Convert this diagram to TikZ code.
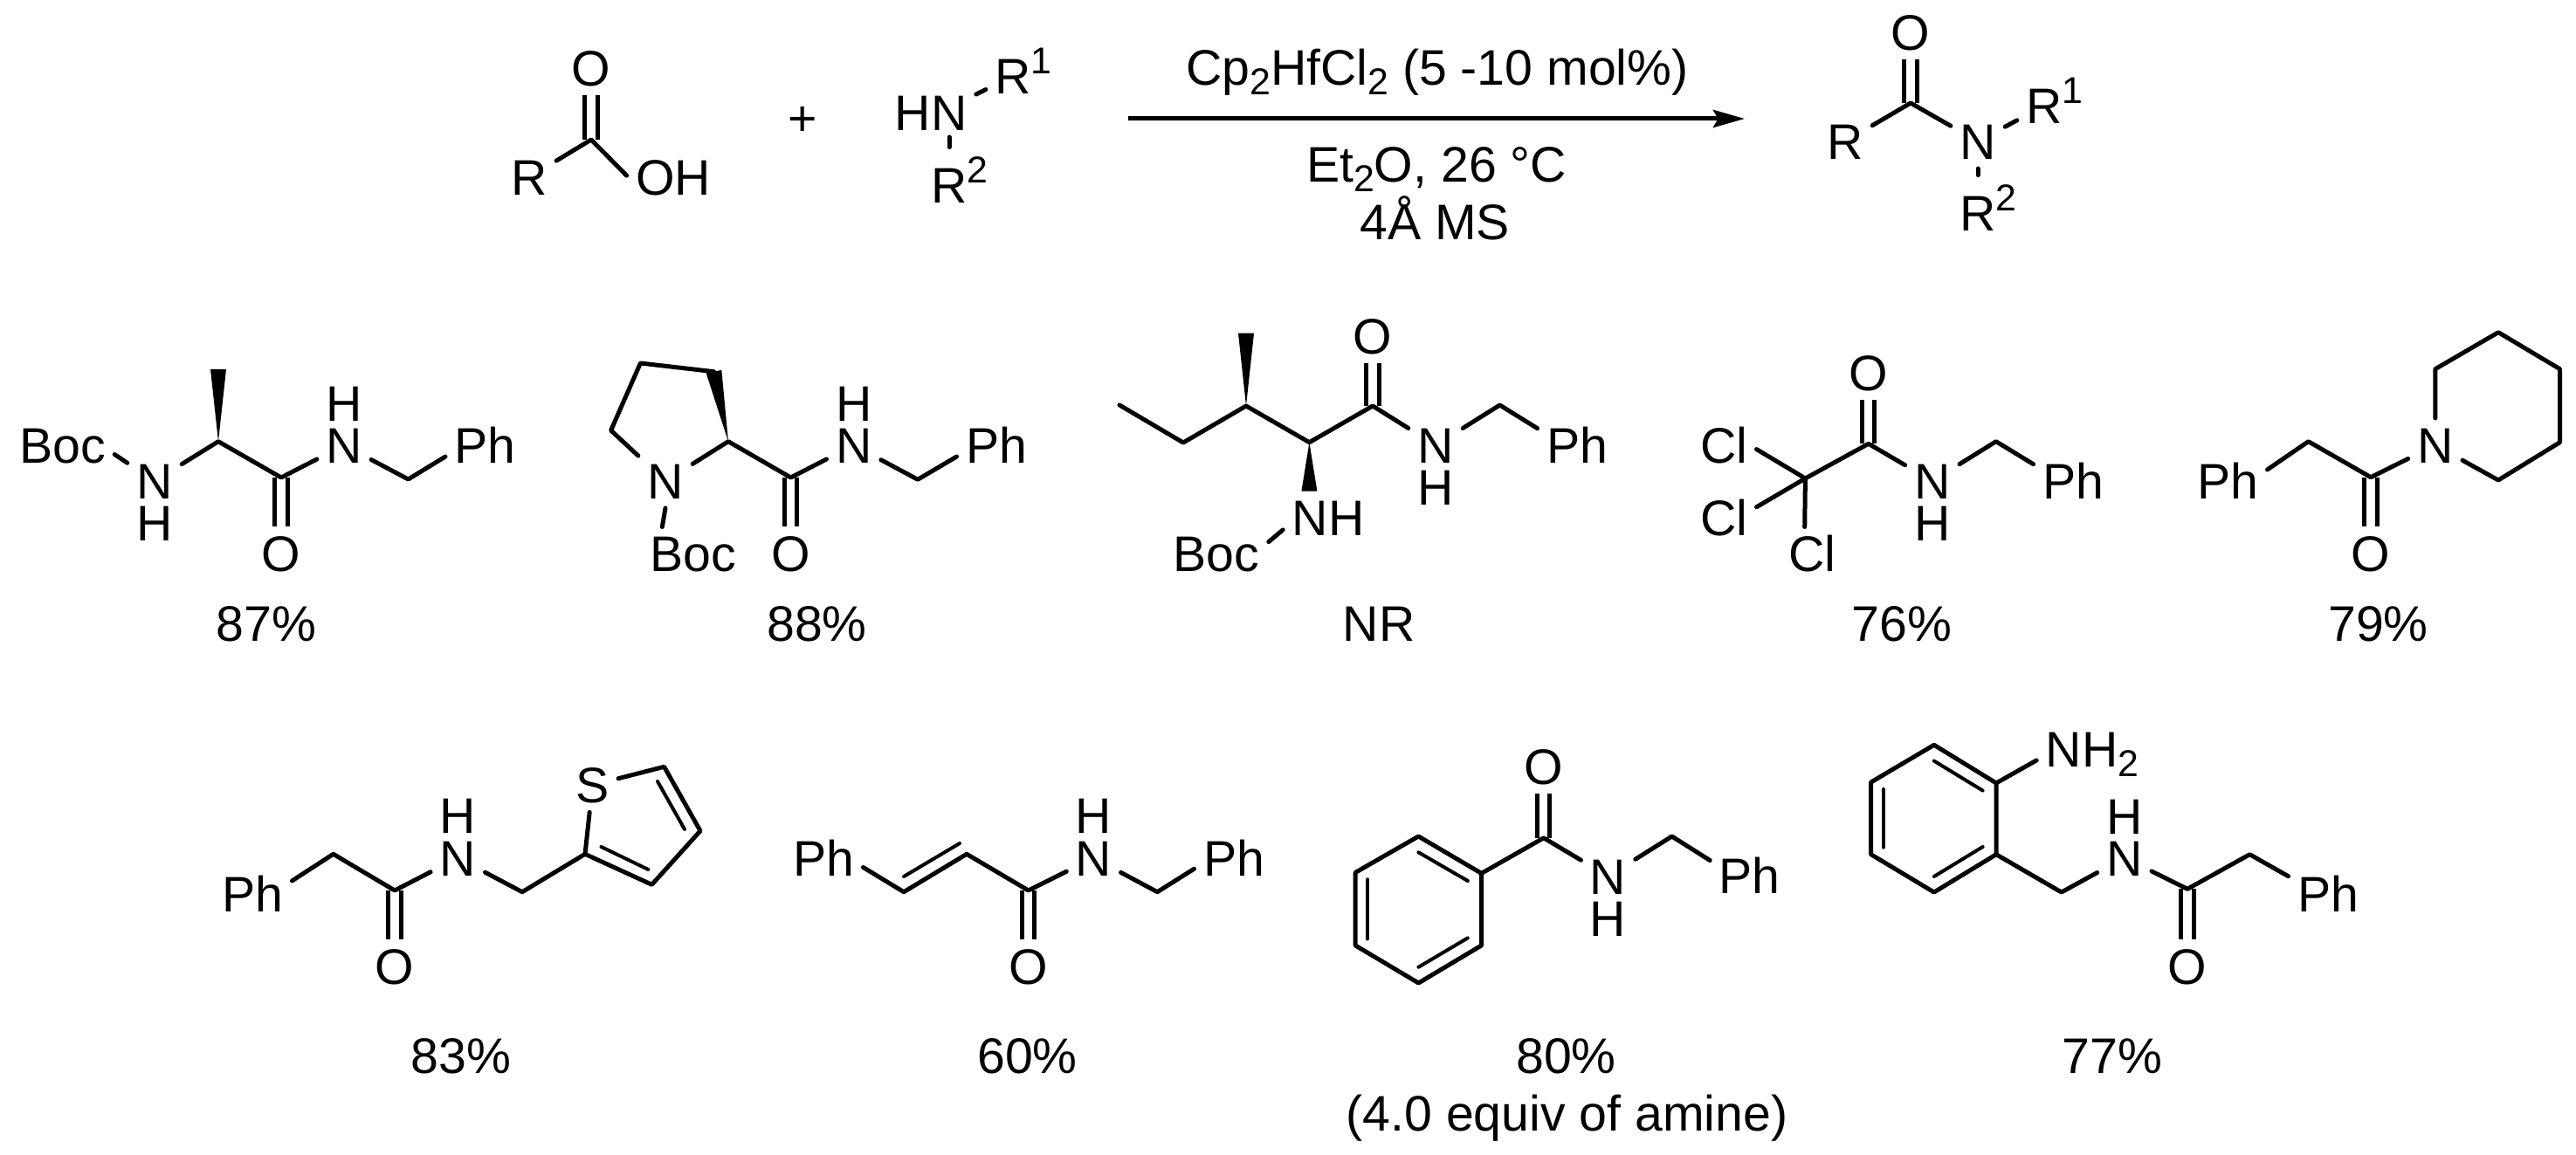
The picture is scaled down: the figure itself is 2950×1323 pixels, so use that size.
\documentclass[tikz,border=0pt]{standalone}
\usepackage{fontspec}
\setmainfont{Liberation Sans}
\usetikzlibrary{arrows.meta,calc}
\newcommand{\sups}[1]{\raisebox{5.75pt}{\fontsize{10.7}{10.7}\selectfont #1}}
\newcommand{\subs}[1]{\raisebox{-2.75pt}{\fontsize{10.7}{10.7}\selectfont #1}}
\newcommand{\wedgebond}[2]{\fill (#1) -- ($(#2)!2.25pt!90:(#1)$) -- ($(#2)!2.25pt!-90:(#1)$) -- cycle;}
\tikzset{
	atom/.style={inner sep=2pt,text height=10.25pt,text depth=0pt},
	dbl/.style={double,double distance=2.3pt,line cap=butt},
	gapb/.style={shorten >=3.1pt}
}
\begin{document}
\begin{tikzpicture}[x=0.25pt,y=-0.25pt,line join=round,line cap=round,line width=1.25pt,font=\fontsize{14.3}{14.3}\selectfont]
	\useasboundingbox (0,0) rectangle (2950,1323);
	% acid + amine
	\coordinate (Ca) at (677,160);
	\node[atom] (Oa) at (677,78) {O};
	\node[atom] (Ra) at (606,203) {R};
	\node[atom] (OHa) at (771,203) {OH};
	\draw[dbl] (Ca)--(Oa);
	\draw (Ra)--(Ca)--(OHa.178);
	\node[atom] (plus) at (919,135) {+};
	\node[atom] (HNb) at (1066,129) {HN};
	\coordinate (Nb) at (1087,157);
	\node[atom] (Rb) at (1160,87) {R\rlap{\sups{1}}};
	\node[atom] (Rc) at (1087,212) {R\rlap{\sups{2}}};
	\draw (HNb.22)--(Rb);
	\draw[gapb] (Nb)--(Rc);
	% arrow
	\coordinate (As) at (1292,136);
	\coordinate (At) at (1998,136);
	\draw[line cap=butt,-{Stealth[length=9pt,width=5pt,inset=1.4pt]}] (As)--(At);
	\node[atom] (Ta) at (1646,77) {Cp\subs{2}HfCl\subs{2} (5 -10 mol\%)};
	\node[atom] (Tb) at (1645,188) {Et\subs{2}O, 26 °C};
	\node[atom] (Tc) at (1643,254) {4Å MS};
	% product
	\coordinate (Cd) at (2188,118);
	\node[atom] (Od) at (2188,37) {O};
	\node[atom] (Rd) at (2113,162) {R};
	\node[atom] (Nd) at (2265,162) {N};
	\node[atom] (Re) at (2341,121) {R\rlap{\sups{1}}};
	\node[atom] (Rf) at (2265,244) {R\rlap{\sups{2}}};
	\draw[dbl] (Cd)--(Od);
	\draw (Rd)--(Cd)--(Nd);
	\draw (Nd)--(Re);
	\draw[gapb] (Nd)--(Rf);
	% 87
	\node[atom] (Bg) at (71.5,510) {Boc};
	\node[atom] (Ng) at (177,551) {N};
	\node[atom] (Hg) at (177,599) {H};
	\coordinate (Dg) at (250,505.7);
	\coordinate (Mg) at (250,423);
	\coordinate (Cg) at (322,547);
	\node[atom] (Og) at (322,634) {O};
	\node[atom] (Nh) at (394,510) {N};
	\node[atom] (Hh) at (394,462) {H};
	\coordinate (Eg) at (467.5,549);
	\node[atom] (Pg) at (555.5,510) {Ph};
	\wedgebond{Dg}{Mg}
	\draw[dbl] (Cg)--(Og);
	\draw (Bg.350)--(Ng)--(Dg)--(Cg)--(Nh)--(Eg)--(Pg.196);
	\node[atom] (Yg) at (305,714.5) {87\%};
	% 88
	\node[atom] (Ni) at (762,551) {N};
	\node[atom] (Bi) at (794,634.5) {Boc};
	\coordinate (Di) at (834,505.7);
	\coordinate (Ei) at (699.6,493);
	\coordinate (Fi) at (733.4,416);
	\coordinate (Gi) at (817.5,425.7);
	\coordinate (Ci) at (905.6,547);
	\node[atom] (Oi) at (905.6,634) {O};
	\node[atom] (Nj) at (977.7,510) {N};
	\node[atom] (Hj) at (977.7,462) {H};
	\coordinate (Ej) at (1051,549.3);
	\node[atom] (Pi) at (1141,510) {Ph};
	\wedgebond{Di}{Gi}
	\draw[dbl] (Ci)--(Oi);
	\draw (Ni)--(Ei)--(Fi)--(Gi);
	\draw (Ni.south)--(Bi.139);
	\draw (Ni)--(Di)--(Ci)--(Nj)--(Ej)--(Pi.196);
	\node[atom] (Yi) at (935.5,714.5) {88\%};
	% NR
	\coordinate (Kk) at (1282,464);
	\coordinate (Lk) at (1355,507);
	\coordinate (Mk) at (1427,465);
	\coordinate (Wk) at (1427,381.7);
	\coordinate (Dk) at (1499.4,506.7);
	\coordinate (Vk) at (1499.4,562.7);
	\coordinate (Ck) at (1572,465);
	\node[atom] (Ok) at (1572,385) {O};
	\node[atom] (Nk) at (1644,510) {N};
	\node[atom] (Hk) at (1644,558) {H};
	\coordinate (Ek) at (1717.5,464);
	\node[atom] (Pk) at (1806,510) {Ph};
	\node[atom] (NHk) at (1521,593) {NH};
	\node[atom] (Bk) at (1393,634.5) {Boc};
	\wedgebond{Mk}{Wk}
	\wedgebond{Dk}{Vk}
	\draw[dbl] (Ck)--(Ok);
	\draw (Kk)--(Lk)--(Mk)--(Dk)--(Ck)--(Nk)--(Ek)--(Pk.157);
	\draw (Bk.13)--(NHk.195);
	\node[atom] (Yk) at (1579,714.5) {NR};
	% 76
	\node[atom] (Cl1) at (1974,510) {Cl};
	\node[atom] (Cl2) at (1974,593) {Cl};
	\node[atom] (Cl3) at (2075,634.5) {Cl};
	\coordinate (Tm) at (2067.4,548);
	\coordinate (Cm) at (2139.8,508.3);
	\node[atom] (Om) at (2139.8,426.7) {O};
	\node[atom] (Nm) at (2212.8,551) {N};
	\node[atom] (Hm) at (2212.8,599) {H};
	\coordinate (Em) at (2285.8,505.7);
	\node[atom] (Pm) at (2374,551) {Ph};
	\draw[dbl] (Cm)--(Om);
	\draw (Cl1.353)--(Tm)--(Cl2.18);
	\draw (Tm)--(Cl3.105);
	\draw (Tm)--(Cm)--(Nm)--(Em)--(Pm.157);
	\node[atom] (Ym) at (2178,714.5) {76\%};
	% 79
	\node[atom] (Pn) at (2551,551) {Ph};
	\coordinate (En) at (2643.5,505.7);
	\coordinate (Cn) at (2715,546.7);
	\node[atom] (On) at (2715,634) {O};
	\node[atom] (Nn) at (2788.8,510) {N};
	\coordinate (Q1) at (2788.8,422.7);
	\coordinate (Q2) at (2861,380.7);
	\coordinate (Q3) at (2931.5,422.7);
	\coordinate (Q4) at (2931.5,506.7);
	\coordinate (Q5) at (2861,550);
	\draw[dbl] (Cn)--(On);
	\draw (Pn.16)--(En)--(Cn)--(Nn);
	\draw (Nn)--(Q1)--(Q2)--(Q3)--(Q4)--(Q5)--(Nn);
	\node[atom] (Yn) at (2723.5,714.5) {79\%};
	% 83
	\node[atom] (Pp) at (289,1023.7) {Ph};
	\coordinate (Ep) at (381.7,978.3);
	\coordinate (Cp) at (452,1020);
	\node[atom] (Op) at (452,1106.7) {O};
	\node[atom] (Np) at (524.3,982.7) {N};
	\node[atom] (Hp) at (524.3,934.3) {H};
	\coordinate (Fp) at (598,1021.7);
	\coordinate (T2) at (670,978.3);
	\node[atom] (Sp) at (678.5,899.3) {S};
	\coordinate (T5) at (760.6,878.3);
	\coordinate (T4) at (802,951.7);
	\coordinate (T3) at (746.5,1013.3);
	\coordinate (Ta1) at (753,895);
	\coordinate (Ta2) at (784,950);
	\coordinate (Tb1) at (688.5,970);
	\coordinate (Tb2) at (742.4,996);
	\draw[dbl] (Cp)--(Op);
	\draw (Pp.18)--(Ep)--(Cp)--(Np)--(Fp)--(T2)--(Sp);
	\draw (Sp)--(T5)--(T4)--(T3)--(T2);
	\draw[line width=1pt] (Ta1)--(Ta2);
	\draw[line width=1pt] (Tb1)--(Tb2);
	\node[atom] (Yp) at (528,1209) {83\%};
	% 60
	\node[atom] (Pq) at (943,983) {Ph};
	\coordinate (Eq) at (1035,1021.7);
	\coordinate (Fq) at (1107,978.3);
	\coordinate (Ga) at (1035,1004);
	\coordinate (Gb) at (1099,966);
	\coordinate (Cq) at (1177.7,1020);
	\node[atom] (Oq) at (1177.7,1106.7) {O};
	\node[atom] (Nq) at (1252.4,982.7) {N};
	\node[atom] (Hq) at (1252.4,934.3) {H};
	\coordinate (Dq) at (1325.3,1021.7);
	\node[atom] (Pr) at (1413,983) {Ph};
	\draw[dbl] (Cq)--(Oq);
	\draw (Pq.347)--(Eq)--(Fq)--(Cq)--(Nq)--(Dq)--(Pr.195);
	\draw[line width=1pt] (Ga)--(Gb);
	\node[atom] (Yq) at (1176.6,1209) {60\%};
	% 80
	\coordinate (U1) at (1624.4,958);
	\coordinate (U2) at (1696.5,1000.4);
	\coordinate (U3) at (1696.5,1083);
	\coordinate (U4) at (1624.4,1126);
	\coordinate (U5) at (1552.2,1083);
	\coordinate (U6) at (1552.2,999.4);
	\coordinate (Ua) at (1624.4,976.3);
	\coordinate (Ub) at (1680.8,1009);
	\coordinate (Uc) at (1566.3,1007.3);
	\coordinate (Ud) at (1566.3,1075.5);
	\coordinate (Ue) at (1624.4,1107.8);
	\coordinate (Uf) at (1680.8,1074.4);
	\coordinate (Cu) at (1767.8,959.8);
	\node[atom] (Ou) at (1767.8,878) {O};
	\node[atom] (Nu) at (1841.6,1003.8) {N};
	\node[atom] (Hu) at (1841.6,1052) {H};
	\coordinate (Eu) at (1914.6,958);
	\node[atom] (Pu) at (2003.7,1003) {Ph};
	\draw[dbl] (Cu)--(Ou);
	\draw (U1)--(U2)--(U3)--(U4)--(U5)--(U6)--cycle;
	\draw (U2)--(Cu)--(Nu)--(Eu)--(Pu.159);
	\draw[line width=1pt] (Ua)--(Ub);
	\draw[line width=1pt] (Uc)--(Ud);
	\draw[line width=1pt] (Ue)--(Uf);
	\node[atom] (Yu) at (1793.5,1209) {80\%};
	\node[atom] (Zu) at (1794.5,1275) {(4.0 equiv of amine)};
	% 77
	\coordinate (V1) at (2214.8,853.3);
	\coordinate (V2) at (2286,897);
	\coordinate (V3) at (2286,978.7);
	\coordinate (V4) at (2214.8,1022);
	\coordinate (V5) at (2142.6,978.7);
	\coordinate (V6) at (2142.6,896);
	\coordinate (Va) at (2214.8,871.6);
	\coordinate (Vb) at (2270.6,905.6);
	\coordinate (Vc) at (2156.6,904);
	\coordinate (Vd) at (2156.6,970.7);
	\coordinate (Ve) at (2214.8,1004);
	\coordinate (Vf) at (2270.6,970);
	\node[atom] (NHv) at (2384,858) {NH\rlap{\subs{2}}};
	\coordinate (Ev) at (2360.7,1022);
	\node[atom] (Nv) at (2432.8,982.5) {N};
	\node[atom] (Hv) at (2432.8,934.6) {H};
	\coordinate (Cv) at (2505,1018.3);
	\node[atom] (Ov) at (2505,1107) {O};
	\coordinate (Dv) at (2576.3,978.7);
	\node[atom] (Pv) at (2666,1024) {Ph};
	\draw[dbl] (Cv)--(Ov);
	\draw (V1)--(V2)--(V3)--(V4)--(V5)--(V6)--cycle;
	\draw (V2)--(NHv.194);
	\draw (V3)--(Ev)--(Nv)--(Cv)--(Dv)--(Pv.156);
	\draw[line width=1pt] (Va)--(Vb);
	\draw[line width=1pt] (Vc)--(Vd);
	\draw[line width=1pt] (Ve)--(Vf);
	\node[atom] (Yv) at (2418.8,1209) {77\%};
\end{tikzpicture}
\end{document}
